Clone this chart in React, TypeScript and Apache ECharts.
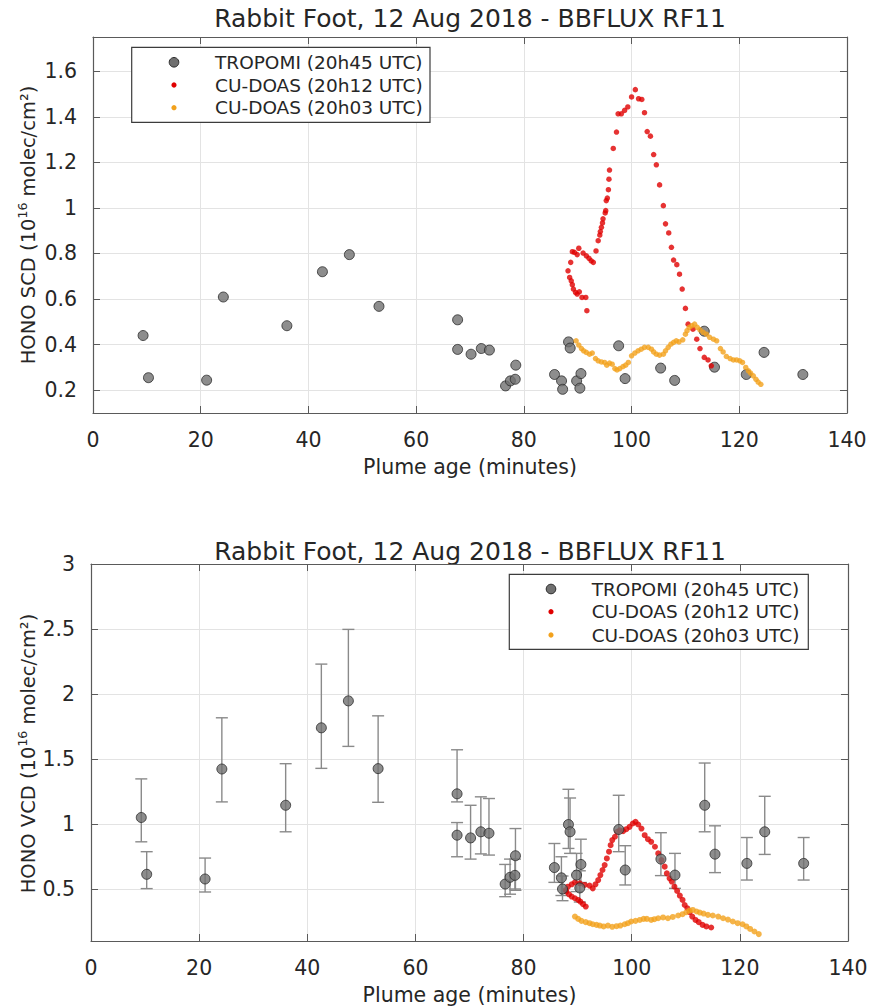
import React, { useEffect, useRef } from 'react';
import * as echarts from 'echarts';

const TITLE = 'Rabbit Foot, 12 Aug 2018 - BBFLUX RF11';
const X_NAME = 'Plume age (minutes)';
const Y_NAME_TOP = 'HONO SCD (10{sup|16} molec/cm²)';
const Y_NAME_BOTTOM = 'HONO VCD (10{sup|16} molec/cm²)';
const LEGEND_NAMES = ['TROPOMI (20h45 UTC)', 'CU-DOAS (20h12 UTC)', 'CU-DOAS (20h03 UTC)'];

const X_TICKS = [0, 20, 40, 60, 80, 100, 120, 140];
const SCD_TICKS = [0.2, 0.4, 0.6, 0.8, 1, 1.2, 1.4, 1.6];
const VCD_TICKS = [0.5, 1, 1.5, 2, 2.5, 3];

// TROPOMI pixels: plume age (minutes)
const tropomiAge = [9.3, 10.3, 21.1, 24.2, 36.0, 42.6, 47.6, 53.1, 67.7, 67.7, 70.2, 72.1, 73.6, 76.6, 77.5, 78.4, 78.5, 85.7, 87.0, 87.2, 88.3, 88.6, 89.8, 90.4, 90.6, 97.6, 98.8, 105.4, 108.0, 113.5, 115.4, 121.3, 124.6, 131.8];
const tropomiScd = [0.44, 0.255, 0.244, 0.609, 0.483, 0.72, 0.795, 0.568, 0.509, 0.379, 0.358, 0.383, 0.376, 0.219, 0.241, 0.248, 0.31, 0.269, 0.241, 0.204, 0.412, 0.385, 0.241, 0.209, 0.273, 0.395, 0.251, 0.297, 0.243, 0.459, 0.301, 0.269, 0.366, 0.269];
const tropomiVcd = [1.05, 0.613, 0.577, 1.423, 1.144, 1.74, 1.947, 1.426, 1.232, 0.914, 0.893, 0.94, 0.929, 0.538, 0.59, 0.605, 0.756, 0.665, 0.586, 0.5, 0.996, 0.94, 0.607, 0.508, 0.689, 0.958, 0.646, 0.73, 0.607, 1.144, 0.768, 0.697, 0.94, 0.697];
const tropomiVcdLow = [0.863, 0.503, 0.477, 1.17, 0.94, 1.428, 1.597, 1.167, 1.17, 0.748, 0.73, 0.77, 0.761, 0.441, 0.46, 0.5, 0.49, 0.551, 0.45, 0.41, 0.812, 0.774, 0.48, 0.4, 0.55, 0.787, 0.531, 0.603, 0.505, 0.94, 0.626, 0.569, 0.766, 0.569];
const tropomiVcdHigh = [1.347, 0.787, 0.738, 1.817, 1.464, 2.23, 2.497, 1.832, 1.571, 1.011, 1.144, 1.209, 1.196, 0.689, 0.73, 0.73, 0.965, 0.85, 0.748, 0.6, 1.267, 1.2, 0.774, 0.64, 0.883, 1.221, 0.833, 0.933, 0.774, 1.469, 0.986, 0.896, 1.213, 0.896];

// CU-DOAS 20h12 UTC, SCD [plume age, value]
const doas2012Scd = [
  [88.2, 0.724], [88.5, 0.695], [88.7, 0.761], [88.8, 0.68], [89.0, 0.808], [89.0, 0.663], [89.2, 0.644],
  [89.4, 0.805], [89.6, 0.629], [89.9, 0.795], [89.9, 0.622], [90.2, 0.823], [90.3, 0.632], [90.8, 0.607],
  [91.0, 0.802], [91.5, 0.607], [91.6, 0.79], [91.7, 0.549], [92.1, 0.779], [92.5, 0.768], [92.9, 0.761],
  [93.4, 0.811], [93.8, 0.856], [94.1, 0.881], [94.2, 0.896], [94.4, 0.915], [94.6, 0.934], [94.7, 0.952],
  [95.1, 0.978], [95.2, 0.988], [95.3, 1.032], [95.5, 1.043], [95.7, 1.08], [95.8, 1.126], [95.9, 1.166],
  [96.6, 1.261], [97.2, 1.333], [97.5, 1.413], [98.1, 1.413], [98.7, 1.428], [99.3, 1.443], [100.0, 1.487],
  [100.7, 1.519], [101.3, 1.479], [101.9, 1.476], [102.4, 1.418], [102.9, 1.335], [103.5, 1.315],
  [104.1, 1.234], [104.6, 1.189], [105.2, 1.101], [105.9, 1.01], [106.3, 0.93], [106.9, 0.89],
  [107.4, 0.827], [107.8, 0.771], [108.4, 0.751], [108.9, 0.709], [109.4, 0.644], [110.0, 0.559],
  [110.5, 0.49], [111.4, 0.468], [112.1, 0.424], [112.7, 0.383], [113.5, 0.344], [114.2, 0.333], [114.8, 0.307]
];

// CU-DOAS 20h03 UTC, SCD
const doas2003Scd = [
  [89.7, 0.417], [90.2, 0.398], [90.7, 0.383], [91.1, 0.373], [91.6, 0.366], [92.2, 0.358], [92.7, 0.363],
  [93.3, 0.339], [93.8, 0.329], [94.4, 0.324], [95.0, 0.322], [95.4, 0.31], [95.9, 0.319], [96.4, 0.314],
  [96.9, 0.295], [97.3, 0.289], [97.8, 0.295], [98.4, 0.304], [98.9, 0.31], [99.4, 0.322], [100.0, 0.351],
  [100.6, 0.363], [101.2, 0.373], [101.8, 0.38], [102.4, 0.388], [103.1, 0.388], [103.7, 0.38], [104.1, 0.368],
  [104.6, 0.358], [105.2, 0.354], [105.9, 0.358], [106.3, 0.373], [106.8, 0.388], [107.3, 0.402], [107.8, 0.41],
  [108.3, 0.417], [108.8, 0.412], [109.5, 0.421], [110.0, 0.446], [110.3, 0.461], [110.7, 0.476], [111.2, 0.483],
  [111.7, 0.49], [112.2, 0.476], [112.7, 0.465], [113.3, 0.454], [113.9, 0.446], [114.5, 0.432], [115.2, 0.424],
  [115.8, 0.417], [116.5, 0.383], [117.0, 0.368], [117.6, 0.348], [118.3, 0.339], [118.9, 0.333], [119.5, 0.333],
  [120.1, 0.329], [120.6, 0.322], [121.2, 0.3], [121.7, 0.285], [122.1, 0.275], [122.6, 0.263], [123.1, 0.248],
  [123.5, 0.236], [124.0, 0.226]
];

// CU-DOAS 20h12 UTC, VCD
const doas2012Vcd = [
  [87.8, 0.492], [87.9, 0.48], [88.2, 0.518], [88.4, 0.459], [88.9, 0.536], [88.9, 0.442], [89.5, 0.551],
  [89.5, 0.429], [90.1, 0.416], [90.4, 0.544], [90.5, 0.403], [91.0, 0.383], [91.3, 0.531], [91.5, 0.365],
  [92.2, 0.526], [92.8, 0.505], [93.3, 0.536], [93.8, 0.569], [94.2, 0.607], [94.6, 0.646], [95.0, 0.684],
  [95.4, 0.735], [95.8, 0.787], [96.1, 0.837], [96.4, 0.876], [96.9, 0.902], [97.3, 0.94], [97.8, 0.952],
  [98.4, 0.945], [99.0, 0.96], [99.6, 0.978], [100.2, 1.004], [100.7, 1.017], [101.2, 0.996], [101.8, 0.965],
  [102.4, 0.914], [103.0, 0.883], [103.6, 0.863], [104.3, 0.825], [104.9, 0.774], [105.5, 0.722], [106.1, 0.672],
  [106.5, 0.62], [107.0, 0.582], [107.4, 0.557], [107.9, 0.518], [108.4, 0.485], [108.9, 0.449], [109.4, 0.416],
  [109.8, 0.377], [110.3, 0.352], [110.7, 0.321], [111.2, 0.288], [111.8, 0.262], [112.4, 0.245], [113.1, 0.224],
  [113.8, 0.212], [114.7, 0.204]
];

// CU-DOAS 20h03 UTC, VCD
const doas2003Vcd = [
  [89.5, 0.288], [90.1, 0.27], [90.7, 0.255], [91.5, 0.245], [92.2, 0.237], [92.8, 0.229], [93.5, 0.224],
  [94.1, 0.219], [94.8, 0.212], [95.6, 0.219], [96.4, 0.209], [97.2, 0.214], [97.9, 0.219], [98.7, 0.229],
  [99.3, 0.237], [99.9, 0.25], [100.7, 0.255], [101.5, 0.262], [102.2, 0.27], [102.8, 0.27], [103.6, 0.262],
  [104.2, 0.268], [104.9, 0.275], [105.8, 0.281], [106.7, 0.275], [107.6, 0.285], [108.6, 0.296], [109.4, 0.306],
  [110.1, 0.321], [110.7, 0.334], [111.3, 0.339], [112.0, 0.327], [112.6, 0.319], [113.3, 0.311], [114.1, 0.301],
  [115.0, 0.296], [116.0, 0.288], [116.9, 0.275], [117.8, 0.265], [118.7, 0.25], [119.6, 0.237], [120.5, 0.229],
  [121.2, 0.212], [121.9, 0.193], [122.7, 0.173], [123.5, 0.153]
];

const FONT = '"DejaVu Sans", "Liberation Sans", sans-serif';
const AXIS_COLOR = '#5a5a5a';
const GRID_LINE = '#e3e3e3';
const TEXT_COLOR = '#262626';
const GRAY = '#707070';
const RED = '#e00000';
const ORANGE = '#f2a11c';

const GRID_TOP = { left: 93, top: 37, width: 754, height: 376 };
const GRID_BOTTOM = { left: 91, top: 564, width: 757, height: 379 };

function xAxes(gridIndex: number) {
  const base: any = {
    type: 'value', gridIndex, min: X_TICKS[0], max: X_TICKS[X_TICKS.length - 1], interval: X_TICKS[1] - X_TICKS[0],
    axisLine: { show: true, onZero: false, lineStyle: { color: AXIS_COLOR, width: 1.2 } },
    axisTick: { show: true, inside: true, length: 7, lineStyle: { color: AXIS_COLOR } },
  };
  return [
    {
      ...base, position: 'bottom', name: X_NAME, nameLocation: 'middle', nameGap: 43,
      nameTextStyle: { fontFamily: FONT, fontSize: 20.5, color: TEXT_COLOR },
      axisLabel: { show: true, margin: 16, fontFamily: FONT, fontSize: 20.5, color: TEXT_COLOR },
      splitLine: { show: true, lineStyle: { color: GRID_LINE, width: 1 } },
    },
    { ...base, position: 'top', axisLabel: { show: false }, splitLine: { show: false } },
  ];
}

function yAxes(gridIndex: number, min: number, max: number, ticks: number[]) {
  const base: any = {
    type: 'value', gridIndex, min, max,
    axisLine: { show: true, onZero: false, lineStyle: { color: AXIS_COLOR, width: 1.2 } },
    axisTick: { show: true, inside: true, length: 7, customValues: ticks, lineStyle: { color: AXIS_COLOR } },
  };
  return [
    {
      ...base, position: 'left',
      axisLabel: { show: true, margin: 16, customValues: ticks, fontFamily: FONT, fontSize: 20.5, color: TEXT_COLOR },
      splitLine: { show: true, lineStyle: { color: GRID_LINE, width: 1 } },
    },
    { ...base, position: 'right', axisLabel: { show: false }, splitLine: { show: false } },
  ];
}

function yNameGraphic(text: string, x: number, y: number) {
  return {
    type: 'text', x, y, rotation: Math.PI / 2,
    style: {
      text, fill: TEXT_COLOR, font: `19.5px ${FONT}`, textAlign: 'center', textVerticalAlign: 'middle',
      rich: { sup: { fontFamily: FONT, fontSize: 12.5, fill: TEXT_COLOR, verticalAlign: 'top', lineHeight: 24 } },
    },
  };
}

function legendGraphics(left: number, top: number, width: number, height: number, markerX: number, textX: number, rows: number[]) {
  const items: any[] = [
    { type: 'rect', shape: { x: left, y: top, width, height }, style: { fill: '#ffffff', stroke: '#3c3c3c', lineWidth: 1.2 }, z: 100 },
    { type: 'circle', shape: { cx: markerX, cy: rows[0], r: 4.8 }, style: { fill: GRAY, stroke: '#2a2a2a', lineWidth: 1 }, z: 101 },
    { type: 'circle', shape: { cx: markerX, cy: rows[1], r: 2.6 }, style: { fill: RED }, z: 101 },
    { type: 'circle', shape: { cx: markerX, cy: rows[2], r: 2.6 }, style: { fill: ORANGE }, z: 101 },
  ];
  LEGEND_NAMES.forEach((n, i) => {
    items.push({
      type: 'text', x: textX, y: rows[i], z: 101,
      style: { text: n, fill: TEXT_COLOR, font: `18.5px ${FONT}`, textAlign: 'left', textVerticalAlign: 'middle' },
    });
  });
  return items;
}

function errorBarRender(params: any, api: any) {
  const x = api.value(0);
  const lo = api.coord([x, api.value(1)]);
  const hi = api.coord([x, api.value(2)]);
  const hw = 6;
  const style = { stroke: '#8a8a8a', lineWidth: 1.4 };
  return {
    type: 'group',
    children: [
      { type: 'line', shape: { x1: lo[0], y1: lo[1], x2: hi[0], y2: hi[1] }, style },
      { type: 'line', shape: { x1: lo[0] - hw, y1: lo[1], x2: lo[0] + hw, y2: lo[1] }, style },
      { type: 'line', shape: { x1: hi[0] - hw, y1: hi[1], x2: hi[0] + hw, y2: hi[1] }, style },
    ],
  };
}

export default function App() {
  const ref = useRef<HTMLDivElement>(null);
  useEffect(() => {
    if (!ref.current) return;
    const chart = echarts.init(ref.current, null, { renderer: 'svg' });
    const tropomiStyle = { color: GRAY, borderColor: '#2a2a2a', borderWidth: 1 };
    const option: any = {
      animation: false,
      backgroundColor: '#ffffff',
      grid: [
        { ...GRID_TOP, containLabel: false },
        { ...GRID_BOTTOM, containLabel: false },
      ],
      xAxis: [...xAxes(0), ...xAxes(1)],
      yAxis: [
        ...yAxes(0, 0.1, 1.75, SCD_TICKS),
        ...yAxes(1, 0.1, 3, VCD_TICKS),
      ],
      series: [
        {
          name: LEGEND_NAMES[0], type: 'scatter', xAxisIndex: 0, yAxisIndex: 0,
          data: tropomiAge.map((a, i) => [a, tropomiScd[i]]), symbolSize: 10, itemStyle: tropomiStyle, z: 3,
        },
        {
          name: LEGEND_NAMES[1], type: 'scatter', xAxisIndex: 0, yAxisIndex: 0,
          data: doas2012Scd, symbolSize: 5.5, itemStyle: { color: RED }, z: 4,
        },
        {
          name: LEGEND_NAMES[2], type: 'scatter', xAxisIndex: 0, yAxisIndex: 0,
          data: doas2003Scd, symbolSize: 5.5, itemStyle: { color: ORANGE }, z: 4,
        },
        {
          name: 'TROPOMI error', type: 'custom', xAxisIndex: 2, yAxisIndex: 2,
          data: tropomiAge.map((a, i) => [a, tropomiVcdLow[i], tropomiVcdHigh[i]]),
          renderItem: errorBarRender, encode: { x: 0, y: [1, 2] }, z: 2, silent: true,
        },
        {
          name: LEGEND_NAMES[1] + ' VCD', type: 'scatter', xAxisIndex: 2, yAxisIndex: 2,
          data: doas2012Vcd, symbolSize: 6, itemStyle: { color: RED }, z: 3,
        },
        {
          name: LEGEND_NAMES[2] + ' VCD', type: 'scatter', xAxisIndex: 2, yAxisIndex: 2,
          data: doas2003Vcd, symbolSize: 6, itemStyle: { color: ORANGE }, z: 3,
        },
        {
          name: LEGEND_NAMES[0] + ' VCD', type: 'scatter', xAxisIndex: 2, yAxisIndex: 2,
          data: tropomiAge.map((a, i) => [a, tropomiVcd[i]]), symbolSize: 10, itemStyle: tropomiStyle, z: 4,
        },
      ],
      graphic: [
        {
          type: 'text', x: 470, y: 18,
          style: { text: TITLE, fill: TEXT_COLOR, font: `25px ${FONT}`, textAlign: 'center', textVerticalAlign: 'middle' },
        },
        {
          type: 'text', x: 470, y: 551,
          style: { text: TITLE, fill: TEXT_COLOR, font: `25px ${FONT}`, textAlign: 'center', textVerticalAlign: 'middle' },
        },
        yNameGraphic(Y_NAME_TOP, 28, GRID_TOP.top + GRID_TOP.height / 2),
        yNameGraphic(Y_NAME_BOTTOM, 28, GRID_BOTTOM.top + GRID_BOTTOM.height / 2),
        ...legendGraphics(131.7, 47.3, 298.3, 75, 174, 215, [62.3, 85, 107.7]),
        ...legendGraphics(509.3, 574.3, 299, 75, 551, 591.7, [589, 611.7, 635]),
      ],
    };
    chart.setOption(option);
    return () => chart.dispose();
  }, []);
  return <div ref={ref} style={{ position: 'absolute', left: 0, top: 0, width: 873, height: 1006 }} />;
}
